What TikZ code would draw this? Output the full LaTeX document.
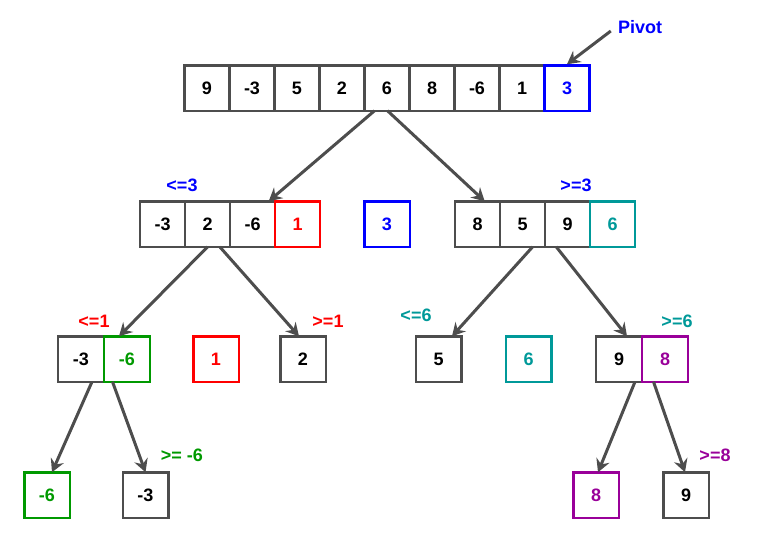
\documentclass[tikz,border=0pt]{standalone}
\usepackage{fontspec}
\setmainfont{Liberation Sans}
\usetikzlibrary{positioning,arrows.meta}

\definecolor{boxgray}{RGB}{77,77,77}
\definecolor{pivblue}{RGB}{0,0,255}
\definecolor{partred}{RGB}{255,0,0}
\definecolor{partteal}{RGB}{0,153,153}
\definecolor{partgreen}{RGB}{0,153,0}
\definecolor{partpurple}{RGB}{153,0,153}

\tikzset{
  cell/.style={draw=boxgray, line width=2.5pt, minimum width=45pt, minimum height=45.5pt,
    inner sep=0pt, outer sep=0pt, font=\fontsize{18}{20}\selectfont\bfseries},
  arr/.style={-{Stealth[length=13pt, width=14pt, inset=4.5pt]}, draw=boxgray, line width=3pt},
  lbl/.style={font=\fontsize{18}{20}\selectfont\bfseries, inner sep=0pt}
}

\begin{document}
\begin{tikzpicture}[x=1pt, y=-1pt]
        \useasboundingbox (0,0) rectangle (779,558);

        % Array iniziale
        \node[cell] (t1) at (207,88) {9};
        \node[cell, right=0pt of t1] (t2) {-3};
        \node[cell, right=0pt of t2] (t3) {5};
        \node[cell, right=0pt of t3] (t4) {2};
        \node[cell, right=0pt of t4] (t5) {6};
        \node[cell, right=0pt of t5] (t6) {8};
        \node[cell, right=0pt of t6] (t7) {-6};
        \node[cell, right=0pt of t7] (t8) {1};
        \node[cell, right=0pt of t8, draw=pivblue, text=pivblue] (t9) {3};

        \node[lbl, text=pivblue] (pivot) at (640,27) {Pivot};
        \draw[arr] ([xshift=-7pt, yshift=-4pt]pivot.west) -- ([yshift=1pt]t9.north);

        % Secondo livello
        \node[cell] (l1) at (162.7,224) {-3};
        \node[cell, right=0pt of l1] (l2) {2};
        \node[cell, right=0pt of l2] (l3) {-6};
        \node[cell, right=0pt of l3, draw=partred, text=partred] (l4) {1};
        \node[cell, minimum width=45.5pt, draw=pivblue, text=pivblue] (p1) at (387,224) {3};
        \node[cell] (r1) at (477.7,224) {8};
        \node[cell, right=0pt of r1] (r2) {5};
        \node[cell, right=0pt of r2] (r3) {9};
        \node[cell, right=0pt of r3, draw=partteal, text=partteal] (r4) {6};

        \node[lbl, text=pivblue] at (182,185) {<=3};
        \node[lbl, text=pivblue] at (576,185) {>=3};

        \draw[arr] ([xshift=-12.5pt]t5.south) -- ([xshift=16pt]l3.north);
        \draw[arr] ([xshift=0.5pt]t5.south) -- ([xshift=7pt]r1.north);

        % Terzo livello
        \node[cell, minimum width=46pt] (m1) at (81,359) {-3};
        \node[cell, minimum width=46pt, right=0pt of m1, draw=partgreen, text=partgreen] (m2) {-6};
        \node[cell, minimum width=45.5pt, draw=partred, text=partred] (p2) at (216,359) {1};
        \node[cell, minimum width=45.5pt] (two) at (303,359) {2};
        \node[cell, minimum width=45.5pt] (five) at (438.5,359) {5};
        \node[cell, minimum width=45.5pt, draw=partteal, text=partteal] (p3) at (528.5,359) {6};
        \node[cell, minimum width=46pt] (n1) at (619,359) {9};
        \node[cell, minimum width=46pt, right=0pt of n1, draw=partpurple, text=partpurple] (n2) {8};

        \node[lbl, text=partred] at (94,321) {<=1};
        \node[lbl, text=partred] at (328,321) {>=1};
        \node[lbl, text=partteal] at (416,315) {<=6};
        \node[lbl, text=partteal] at (677,321) {>=6};

        \draw[arr] (l2.south) -- ([xshift=-8pt]m2.north);
        \draw[arr] ([xshift=12pt]l2.south) -- ([xshift=-4pt]two.north);
        \draw[arr] ([xshift=10pt]r2.south) -- ([xshift=13.5pt]five.north);
        \draw[arr] ([xshift=-11.5pt]r3.south) -- ([xshift=8pt]n1.north);

        % Quarto livello
        \node[cell, minimum width=45.5pt, draw=partgreen, text=partgreen] (q1) at (47,495) {-6};
        \node[cell, minimum width=45.5pt] (q2) at (145.5,495) {-3};
        \node[cell, minimum width=45.5pt, draw=partpurple, text=partpurple] (q3) at (596,495) {8};
        \node[cell, minimum width=45.5pt] (q4) at (686,495) {9};

        \node[lbl, text=partgreen] at (182,455) {>= -6};
        \node[lbl, text=partpurple] at (715,455) {>=8};

        \draw[arr] ([xshift=11pt]m1.south) -- ([xshift=5pt]q1.north);
        \draw[arr] ([xshift=-14.5pt]m2.south) -- (q2.north);
        \draw[arr] ([xshift=16pt]n1.south) -- ([xshift=2pt]q3.north);
        \draw[arr] ([xshift=-11.5pt]n2.south) -- ([xshift=-1pt]q4.north);

\end{tikzpicture}
\end{document}
